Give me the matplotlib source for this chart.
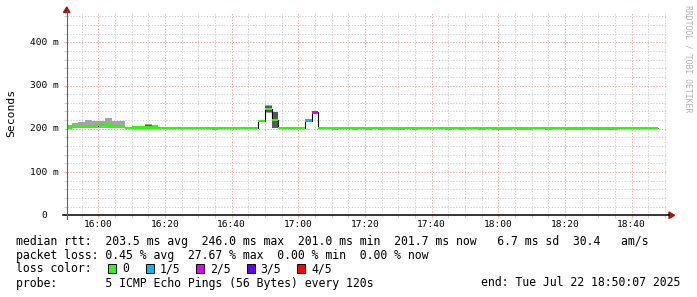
import matplotlib
matplotlib.use('Agg')
import matplotlib.pyplot as plt
import matplotlib.transforms as mtransforms
from matplotlib.patches import Polygon, Rectangle
from matplotlib.lines import Line2D
import numpy as np

W, H, DPI = 697, 297, 100

# ---------------- data ----------------
# time axis in minutes relative to 16:00
x_range = (-9.48, 170.52)
step_first = -10          # first RRD step starts 15:50
step_minutes = 2          # probe every 120 s
x_major = [0, 20, 40, 60, 80, 100, 120, 140, 160]
x_labels = ["16:00", "16:20", "16:40", "17:00", "17:20", "17:40", "18:00", "18:20", "18:40"]
y_major = [0, 100, 200, 300, 400]
y_labels = ["0", "100 m", "200 m", "300 m", "400 m"]
y_top = 470

# median rtt per step (ms)
median = [
    203.0, 205.0, 205.5, 205.5, 205.5, 210.0, 208.0, 205.0, 205.0, 202.3,
    202.8, 202.8, 203.0, 203.0, 202.3, 202.3, 202.3, 202.3, 202.3, 202.3,
    202.3, 202.3, 201.0, 202.3, 202.3, 202.3, 202.3, 202.3, 202.3, 218.0,
    246.0, 220.0, 202.3, 202.3, 202.3, 202.3, 219.0, 238.0, 202.3, 202.3,
    201.0, 202.3, 202.3, 201.0, 202.3, 201.0, 202.3, 201.0, 202.3, 201.0,
    201.0, 202.3, 201.0, 202.3, 202.3, 202.3, 202.3, 201.0, 202.3, 201.0,
    202.3, 202.3, 201.0, 202.3, 201.0, 201.0, 201.0, 202.3, 201.0, 201.0,
    202.3, 202.3, 201.0, 202.3, 202.3, 201.0, 201.0, 201.0, 202.3, 201.0,
    201.0, 201.0, 201.0, 202.3, 202.3, 202.3, 202.3, 202.3, 201.7,
]
# lost pings (out of 5) per step
loss = [0] * 36 + [1, 2] + [0] * 51

# smoke (ping spread) for the steps where it is visible
smoke_idx = [0, 1, 2, 3, 4, 5, 6, 7, 8, 10, 11, 12, 13, 30, 31]
smoke_lo  = [201, 201, 201, 201, 201, 201, 201, 201, 201, 201, 201, 201, 201, 237, 201]
smoke_hi  = [209, 214, 216, 220, 217, 217, 225, 219, 219, 205.5, 205, 211, 209, 256, 238]
inner_lo  = [202, 203, 203, 203, 203, 206, 205, 203, 203, 204, 202, 202, 202, 238, 201]
inner_hi  = [204, 207, 207, 207, 207, 213.5, 211, 207, 207, 205.5, 203, 209, 207.5, 253, 238]

loss_colors = ['#26ff00', '#00b8ff', '#dd00ff', '#5e00ff', '#ff0000']
loss_names = ['0', '1/5', '2/5', '3/5', '4/5']

stats_line1 = "median rtt:  203.5 ms avg  246.0 ms max  201.0 ms min  201.7 ms now   6.7 ms sd  30.4   am/s"
stats_line2 = "packet loss: 0.45 % avg  27.67 % max  0.00 % min  0.00 % now"
stats_line3 = "loss color:"
stats_line4 = "probe:       5 ICMP Echo Pings (56 Bytes) every 120s"
end_text = "end: Tue Jul 22 18:50:07 2025"
ylabel = "Seconds"
watermark = "RRDTOOL / TOBI OETIKER"

# ---------------- figure ----------------
MONO = 'DejaVu Sans Mono'
fig = plt.figure(figsize=(W / DPI, H / DPI), dpi=DPI, facecolor='white')

def fx(px):
    return px / W

def fy(py):
    return 1 - py / H

ax_left, ax_right, ax_bottom, ax_top = 66.7, 666.7, 215.3, 12.0
ax = fig.add_axes([fx(ax_left), fy(ax_bottom), (ax_right - ax_left) / W, (ax_bottom - ax_top) / H])
ax.set_facecolor('white')
for s in ax.spines.values():
    s.set_visible(False)
ax.set_xlim(*x_range)
ax.set_ylim(0, y_top)

# grid
x_minor = [v for v in range(-5, 171, 5) if v not in x_major]
y_minor = [v for v in range(20, 461, 20) if v not in y_major]
ax.set_xticks(x_major)
ax.set_xticks(x_minor, minor=True)
ax.set_yticks(y_major)
ax.set_yticks(y_minor, minor=True)
ax.tick_params(which='both', labelbottom=False, labelleft=False, direction='out', width=0.72)
ax.tick_params(which='major', length=2.2, color='#f2b0b0')
ax.tick_params(which='minor', length=2.2, color='#d2d2d2')
ax.grid(which='minor', color='#d0d0d0', lw=0.72, linestyle=(0, (1.3, 1.6)), zorder=0)
ax.grid(which='major', color='#f0a8a8', lw=0.72, linestyle=(0, (1.3, 1.6)), zorder=0)
ax.set_axisbelow(True)

n = len(median)
step_starts = np.array([step_first + step_minutes * i for i in range(n)], dtype=float)
edges = np.append(step_starts, step_starts[-1] + step_minutes)
med = np.array(median)

# smoke
for k, i in enumerate(smoke_idx):
    ax.bar(step_starts[i], smoke_hi[k] - smoke_lo[k], bottom=smoke_lo[k], width=step_minutes,
           align='edge', color='#a4a4a4', linewidth=0, antialiased=False, zorder=2)
    ax.bar(step_starts[i], inner_hi[k] - inner_lo[k], bottom=inner_lo[k], width=step_minutes,
           align='edge', color='#585858', linewidth=0, antialiased=False, zorder=2.1)

# median black line
ax.stairs(med, edges, baseline=None, color='#000000', lw=0.8, zorder=3)

# loss-coloured median bands
band = 2.8
for i in range(n):
    ax.bar(step_starts[i], 2 * band, bottom=med[i] - band, width=step_minutes, align='edge',
           color=loss_colors[loss[i]], linewidth=0, antialiased=False, zorder=4)

# tick labels
ytr = mtransforms.blended_transform_factory(fig.transFigure, ax.transData)
for v, lab in zip(y_major, y_labels):
    ax.text(fx(44.5), v, lab, transform=ytr, ha='center', va='center',
            family=MONO, fontsize=6.8, color='black')
xtr = mtransforms.blended_transform_factory(ax.transData, fig.transFigure)
for v, lab in zip(x_major, x_labels):
    ax.text(v, fy(224.3), lab, transform=xtr, ha='center', va='center',
            family=MONO, fontsize=6.8, color='black')

# axes lines and arrows
fig.add_artist(Line2D([fx(63), fx(669)], [fy(215.3), fy(215.3)], color='black', lw=1.1))
fig.add_artist(Line2D([fx(ax_left), fx(ax_left)], [fy(219), fy(11)], color='#606060', lw=0.8))
fig.add_artist(Polygon([[fx(669), fy(212)], [fx(669), fy(218.5)], [fx(674.5), fy(215.3)]],
                       closed=True, color='#a01818', transform=fig.transFigure))
fig.add_artist(Polygon([[fx(63.5), fy(12.5)], [fx(69.9), fy(12.5)], [fx(66.7), fy(7)]],
                       closed=True, color='#a01818', transform=fig.transFigure))

# labels
fig.text(fx(10.8), fy(113.3), ylabel, rotation=90, ha='center', va='center',
         family=MONO, fontsize=8.2, color='black')
fig.text(fx(688), fy(59), watermark, rotation=270, ha='center', va='center',
         family=MONO, fontsize=5.9, color='#b4b4b4')

# legend / stats
fs = 8.3
fig.text(fx(16), fy(244.5), stats_line1, ha='left', va='baseline', family=MONO, fontsize=fs)
fig.text(fx(16), fy(258.5), stats_line2, ha='left', va='baseline', family=MONO, fontsize=fs)
fig.text(fx(16), fy(272.5), stats_line3, ha='left', va='baseline', family=MONO, fontsize=fs)
fig.text(fx(16), fy(286.5), stats_line4, ha='left', va='baseline', family=MONO, fontsize=fs)
fig.text(fx(680), fy(286.5), end_text, ha='right', va='baseline', family=MONO, fontsize=fs)

box_x = [108, 145.5, 196, 246.7, 297]
for bx, col, name in zip(box_x, loss_colors, loss_names):
    fig.add_artist(Rectangle((fx(bx), fy(272.5)), 8.2 / W, 8.2 / H, transform=fig.transFigure,
                             facecolor=col, edgecolor='black', lw=0.7))
    fig.text(fx(bx + 14), fy(272.5), name, ha='left', va='baseline', family=MONO, fontsize=fs)

fig.savefig('out.png', dpi=DPI, facecolor='white')
